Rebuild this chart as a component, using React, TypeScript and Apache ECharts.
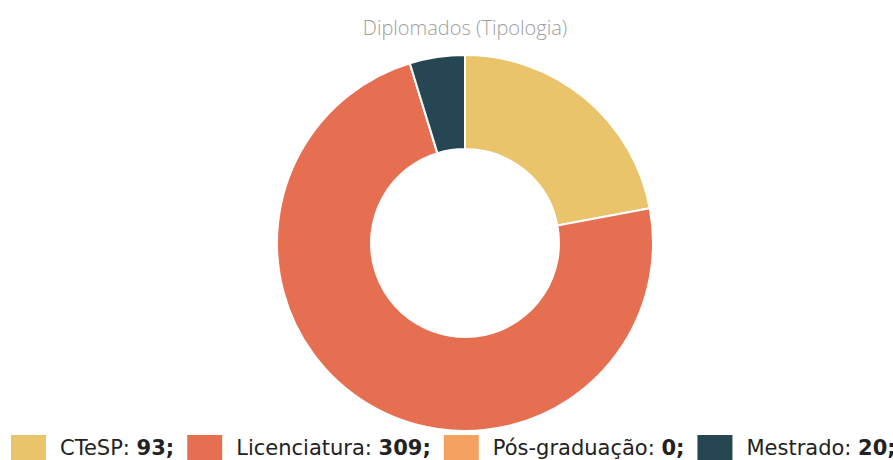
import React, { useEffect, useRef } from "react";
import * as echarts from "echarts";

const categories = ["CTeSP", "Licenciatura", "Pós-graduação", "Mestrado"];
const values = [93, 309, 0, 20];
const colors = ["#e9c46a", "#e76f51", "#f4a261", "#264653"];
const titleText = "Diplomados (Tipologia)";

export default function App() {
  const ref = useRef<HTMLDivElement>(null);
  useEffect(() => {
    if (!ref.current) return;
    const chart = echarts.init(ref.current, undefined, { renderer: "svg" });
    const data = categories.map((c, i) => ({
      name: c,
      value: values[i],
      itemStyle: { color: colors[i] },
    }));
    chart.setOption({
      animation: false,
      title: {
        text: titleText,
        left: "center",
        top: 12,
        textStyle: {
          fontFamily: "Open Sans",
          fontWeight: 300,
          fontSize: 20,
          color: "#9e9e9e",
        },
      },
      legend: {
        left: 4,
        top: 428,
        orient: "horizontal",
        icon: "rect",
        itemWidth: 37,
        itemHeight: 28,
        itemGap: 11,
        data: categories,
        formatter: (name: string) => {
          const i = categories.indexOf(name);
          return `{a|${name}: }{b|${values[i]};}`;
        },
        textStyle: {
          fontFamily: "DejaVu Sans",
          fontSize: 21,
          color: "#222",
          rich: {
            a: {
              fontFamily: "DejaVu Sans",
              fontSize: 21,
              color: "#222",
              padding: [0, 0, 0, 8],
            },
            b: {
              fontFamily: "DejaVu Sans",
              fontSize: 21,
              fontWeight: "bold",
              color: "#222",
            },
          },
        },
      },
      series: [
        {
          type: "pie",
          center: [465, 243],
          radius: [94, 188],
          startAngle: 90,
          clockwise: true,
          label: { show: false },
          labelLine: { show: false },
          itemStyle: { borderColor: "#fff", borderWidth: 2 },
          emphasis: { scale: false },
          data,
        },
      ],
    });
    return () => chart.dispose();
  }, []);
  return (
    <div
      style={{
        position: "fixed",
        left: 0,
        top: 0,
        width: 893,
        height: 460,
        overflow: "hidden",
        background: "#fff",
      }}
    >
      <div ref={ref} style={{ width: 930, height: 470 }} />
    </div>
  );
}
